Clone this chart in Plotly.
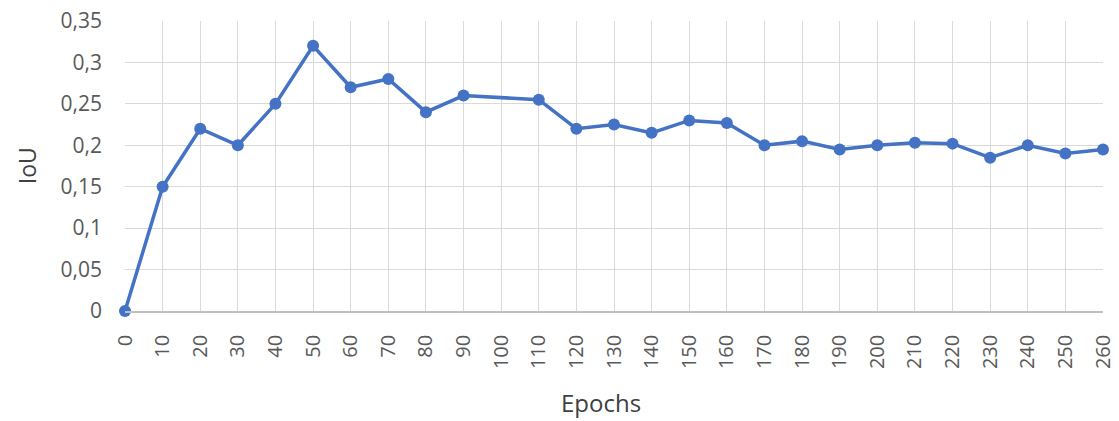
import plotly.graph_objects as go

epochs = [0, 10, 20, 30, 40, 50, 60, 70, 80, 90, 100, 110, 120, 130, 140, 150, 160,
          170, 180, 190, 200, 210, 220, 230, 240, 250, 260]
iou = [0.0, 0.15, 0.22, 0.20, 0.25, 0.32, 0.27, 0.28, 0.24, 0.26, None, 0.255, 0.22,
       0.225, 0.215, 0.23, 0.227, 0.20, 0.205, 0.195, 0.20, 0.203, 0.202, 0.185,
       0.20, 0.19, 0.195]
y_ticks = [0, 0.05, 0.1, 0.15, 0.2, 0.25, 0.3, 0.35]

color = "#4472C4"
font_family = "Open Sans, Noto Sans, sans-serif"

fig = go.Figure()
fig.add_trace(go.Scatter(
    x=epochs, y=iou, mode="lines+markers", connectgaps=True,
    line=dict(color=color, width=3.5),
    marker=dict(color=color, size=12),
    cliponaxis=False,
    showlegend=False,
))

fig.update_layout(
    width=1119, height=421,
    margin=dict(l=125, r=16, t=21, b=110, autoexpand=False),
    paper_bgcolor="white", plot_bgcolor="white",
    separators=", ",
    font=dict(family=font_family, color="#595959", size=21),
)
fig.update_xaxes(
    range=[0, 260], tickmode="array", tickvals=epochs,
    ticktext=[str(e) for e in epochs], tickangle=-90,
    showgrid=True, gridcolor="#D9D9D9", gridwidth=1,
    showline=True, linecolor="#BFBFBF", linewidth=1.5,
    zeroline=False, ticks="", ticklabelstandoff=14, automargin=False,
    tickfont=dict(size=20, color="#595959"),
)
fig.update_yaxes(
    range=[0, 0.35], tickmode="array", tickvals=y_ticks,
    showgrid=True, gridcolor="#D9D9D9", gridwidth=1,
    zeroline=False, showline=False, ticks="", ticklabelstandoff=22, automargin=False,
    tickfont=dict(size=21, color="#595959"),
)
fig.add_annotation(
    text="IoU", xref="paper", yref="paper", x=-0.1, y=0.5,
    xanchor="center", yanchor="middle", textangle=-90, showarrow=False,
    font=dict(size=23, color="#404040"),
)
fig.add_annotation(
    text="Epochs", xref="paper", yref="paper", x=0.487, y=-0.317,
    xanchor="center", yanchor="middle", showarrow=False,
    font=dict(size=24, color="#404040"),
)

fig.write_html(
    "out.html",
    config={"displayModeBar": False},
    post_script="document.body.style.margin='0';document.body.style.overflow='hidden';",
)
